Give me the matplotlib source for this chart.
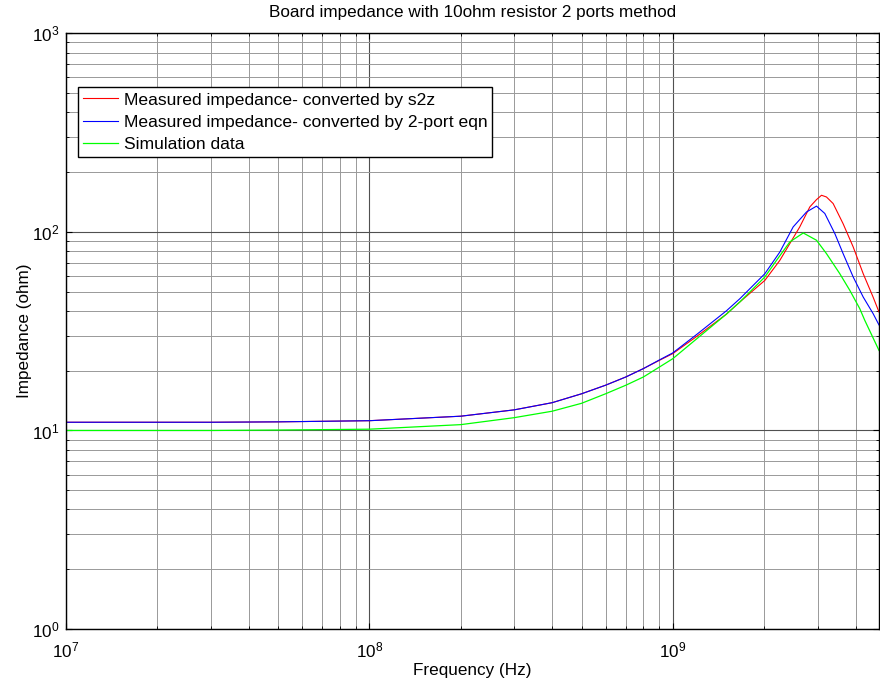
import matplotlib
matplotlib.use("Agg")
import matplotlib.pyplot as plt
from matplotlib.ticker import LogLocator, NullFormatter

plt.rcParams['font.family'] = ['Liberation Sans', 'DejaVu Sans']
plt.rcParams['mathtext.fontset'] = 'custom'
plt.rcParams['mathtext.rm'] = 'Liberation Sans'

title = "Board impedance with 10ohm resistor 2 ports method"
xlabel = "Frequency (Hz)"
ylabel = "Impedance (ohm)"
legend_labels = ["Measured impedance- converted by s2z",
                 "Measured impedance- converted by 2-port eqn",
                 "Simulation data"]

# Measured impedance - converted by s2z (red)
f_red = [1e7, 3e7, 5e7, 1e8, 2e8, 3e8, 4e8, 5e8, 6e8, 7e8, 8e8, 9e8, 1e9,
         1.2e9, 1.5e9, 1.663e9, 2.01e9, 2.252e9, 2.43e9, 2.62e9, 2.828e9, 2.975e9,
         3.09e9, 3.208e9, 3.375e9, 3.64e9, 3.93e9, 4.24e9, 4.57e9, 4.78e9]
z_red = [11.0, 11.0, 11.05, 11.2, 11.8, 12.7, 13.8, 15.3, 16.9, 18.6, 20.5, 22.5, 24.4,
         29.8, 38.5, 44.4, 57.0, 71.9, 87.4, 106.0, 133.7, 145.5,
         153.0, 150.0, 139.0, 110.0, 84.0, 61.6, 47.0, 39.5]

# Measured impedance - converted by 2-port eqn (blue)
f_blue = [1e7, 3e7, 5e7, 1e8, 2e8, 3e8, 4e8, 5e8, 6e8, 7e8, 8e8, 9e8, 1e9,
          1.2e9, 1.5e9, 1.663e9, 2.01e9, 2.252e9, 2.492e9, 2.757e9, 2.975e9, 3.168e9,
          3.418e9, 3.64e9, 3.93e9, 4.24e9, 4.57e9, 4.78e9]
z_blue = [11.0, 11.0, 11.05, 11.2, 11.8, 12.7, 13.8, 15.3, 16.9, 18.6, 20.5, 22.6, 24.6,
          30.5, 40.0, 46.1, 61.6, 79.2, 106.0, 126.0, 134.9, 123.9,
          98.2, 77.8, 59.3, 47.0, 38.8, 34.0]

# Simulation data (green)
f_green = [1e7, 3e7, 5e7, 1e8, 2e8, 3e8, 4e8, 5e8, 6e8, 7e8, 8e8, 9e8, 1e9,
           1.2e9, 1.5e9, 1.663e9, 2.01e9, 2.196e9, 2.43e9, 2.69e9, 2.975e9, 3.208e9,
           3.55e9, 3.83e9, 4.13e9, 4.29e9, 4.78e9]
z_green = [10.0, 10.0, 10.05, 10.15, 10.7, 11.6, 12.5, 13.7, 15.3, 16.9, 18.6, 20.8, 23.0,
           29.0, 38.5, 44.4, 59.3, 71.9, 89.1, 98.8, 90.8, 77.8,
           61.6, 50.8, 41.1, 35.9, 25.3]

fig = plt.figure(figsize=(8.8, 6.85), dpi=100)
ax = fig.add_axes([66 / 880, 1 - 629 / 685, (879 - 66) / 880, (629 - 33.4) / 685])

ax.plot(f_red, z_red, color='#ff0000', lw=0.8, label=legend_labels[0])
ax.plot(f_blue, z_blue, color='#0000ff', lw=0.8, label=legend_labels[1])
ax.plot(f_green, z_green, color='#00ff00', lw=0.9, label=legend_labels[2])

ax.set_xscale('log')
ax.set_yscale('log')
ax.set_xlim(1e7, 4.78e9)
ax.set_ylim(1e0, 1e3)

ax.xaxis.set_major_locator(LogLocator(base=10, numticks=10))
ax.xaxis.set_minor_locator(LogLocator(base=10, subs=range(2, 10), numticks=20))
ax.yaxis.set_minor_locator(LogLocator(base=10, subs=range(2, 10), numticks=20))
ax.xaxis.set_minor_formatter(NullFormatter())
ax.yaxis.set_minor_formatter(NullFormatter())

ax.grid(True, which='major', color='#505050', lw=0.8)
ax.grid(True, which='minor', color='#999999', lw=0.7)
ax.set_axisbelow(True)

ax.tick_params(which='both', direction='in', top=True, right=True, labelsize=12.3)
ax.tick_params(axis='x', which='major', length=4, pad=8)
ax.tick_params(axis='y', which='major', length=4, pad=5)
ax.tick_params(which='minor', length=2)
for s in ax.spines.values():
    s.set_linewidth(1.0)

ax.set_title(title, fontsize=12.3, pad=12)
ax.set_xlabel(xlabel, fontsize=12.3, labelpad=2)
ax.set_ylabel(ylabel, fontsize=12.3, labelpad=0)

leg = ax.legend(loc='upper left', bbox_to_anchor=(0.0148, 0.91), fontsize=12.6,
                frameon=True, fancybox=False, framealpha=1, edgecolor='black',
                borderaxespad=0, handlelength=2.0, handletextpad=0.3,
                labelspacing=0.4, borderpad=0.3)
leg.get_frame().set_linewidth(1.0)

fig.savefig('out.png', dpi=100)
